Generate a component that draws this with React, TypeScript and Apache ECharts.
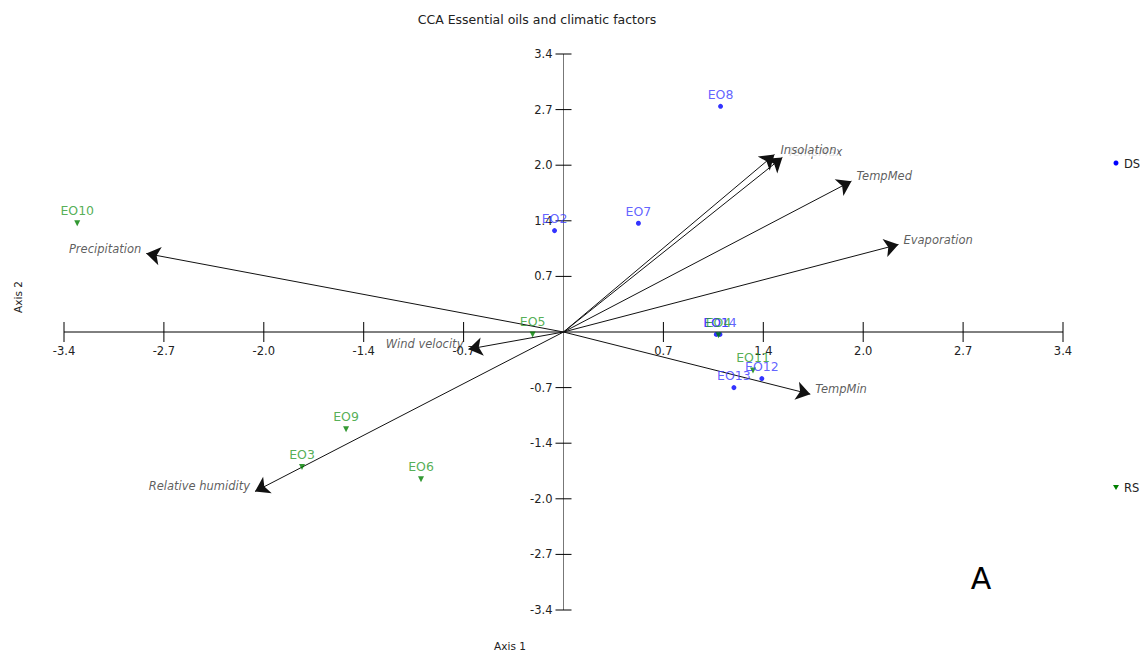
import React, { useEffect, useRef } from "react";
import * as echarts from "echarts";

const tickValues = [-3.4, -2.72, -2.04, -1.36, -0.68, 0, 0.68, 1.36, 2.04, 2.72, 3.4];

const dsNames = ["EO8", "EO7", "EO2", "EO1", "EO14", "EO12", "EO13"];
const dsX = [1.069, 0.51, -0.061, 1.04, 1.065, 1.35, 1.16];
const dsY = [2.76, 1.33, 1.24, -0.03, -0.03, -0.57, -0.68];

const rsNames = ["EO10", "EO5", "EO9", "EO3", "EO6", "EO4", "EO11"];
const rsX = [-3.31, -0.21, -1.48, -1.78, -0.97, 1.055, 1.29];
const rsY = [1.33, -0.03, -1.19, -1.65, -1.8, -0.04, -0.47];

const varNames = ["TempMax", "Insolation", "TempMed", "Evaporation", "TempMin", "Precipitation", "Wind velocity", "Relative humidity"];
const varX = [1.49, 1.436, 1.96, 2.28, 1.68, -2.84, -0.647, -2.1];
const varY = [2.135, 2.17, 1.845, 1.07, -0.76, 0.96, -0.21, -1.95];

const FONT = "DejaVu Sans";

export default function App() {
  const ref = useRef<HTMLDivElement>(null);
  useEffect(() => {
    if (!ref.current) return;
    const chart = echarts.init(ref.current, undefined, { renderer: "svg" });
    const fmt = (v: number) => (Math.abs(v) < 1e-9 ? "" : v.toFixed(1));
    const axisCommon = {
      type: "value" as const,
      min: -3.4,
      max: 3.4,
      interval: 0.68,
      splitLine: { show: false },
      axisLine: { show: false },
      axisTick: { show: false },
      axisLabel: { show: false },
    };
    const tickFont = `11.5px "${FONT}"`;
    const renderAxis = (params: any, api: any) => {
      const v = api.value(0);
      const p = api.coord([v, 0]);
      const q = api.coord([0, v]);
      const children: any[] = [];
      if (params.dataIndex === 0) {
        const xa = api.coord([tickValues[0], 0]);
        const xb = api.coord([tickValues[tickValues.length - 1], 0]);
        const ya = api.coord([0, tickValues[tickValues.length - 1]]);
        const yb = api.coord([0, tickValues[0]]);
        children.push({ type: "line", shape: { x1: xa[0], y1: xa[1], x2: xb[0], y2: xb[1] }, style: { stroke: "#000", lineWidth: 1 } });
        children.push({ type: "line", shape: { x1: ya[0], y1: ya[1], x2: yb[0], y2: yb[1] }, style: { stroke: "#777", lineWidth: 1 } });
      }
      const label = fmt(v);
      if (label) {
        children.push({ type: "line", shape: { x1: p[0], y1: p[1] - 10, x2: p[0], y2: p[1] + 10 }, style: { stroke: "#000", lineWidth: 1 } });
        children.push({ type: "line", shape: { x1: q[0] - 8, y1: q[1], x2: q[0] + 8, y2: q[1] }, style: { stroke: "#000", lineWidth: 1 } });
        children.push({
          type: "text",
          x: p[0],
          y: p[1] + 13,
          style: { text: label, font: tickFont, fill: "#222", align: "center", verticalAlign: "top", textAlign: "center", textVerticalAlign: "top" },
        });
        children.push({
          type: "text",
          x: q[0] - 11,
          y: q[1],
          style: { text: label, font: tickFont, fill: "#222", align: "right", verticalAlign: "middle", textAlign: "right", textVerticalAlign: "middle" },
        });
      }
      return { type: "group", children };
    };
    const option: any = {
      animation: false,
      grid: { left: 64, right: 85, top: 54, bottom: 43, containLabel: false },
      xAxis: axisCommon,
      yAxis: axisCommon,
      series: [
        {
          type: "custom",
          coordinateSystem: "cartesian2d",
          renderItem: renderAxis,
          clip: false,
          silent: true,
          z: 1,
          data: tickValues.map((v) => [v]),
        },
        {
          type: "lines",
          coordinateSystem: "cartesian2d",
          symbol: ["none", "arrow"],
          symbolSize: [7, 14],
          lineStyle: { color: "#111", width: 1, opacity: 1 },
          itemStyle: { color: "#000" },
          data: varNames.map((n, i) => ({ name: n, coords: [[0, 0], [varX[i], varY[i]]] })),
          z: 3,
        },
        {
          type: "scatter",
          symbolSize: 0,
          z: 4,
          data: varNames.map((n, i) => ({
            name: n,
            value: [varX[i], varY[i]],
            label: {
              show: true,
              position: varX[i] >= 0 ? "right" : "left",
              distance: 5,
              offset: [0, -5],
              formatter: n,
              fontStyle: "italic",
              fontSize: 11.5,
              fontFamily: FONT,
              color: "#333",
              backgroundColor: n === "Insolation" ? "#fff" : "transparent",
              padding: n === "Insolation" ? [0, 1, 2, 1] : 0,
            },
          })),
        },
        {
          type: "scatter",
          name: "DS",
          symbol: "circle",
          symbolSize: 5,
          itemStyle: { color: "#0000ff" },
          z: 5,
          label: { show: true, position: "top", distance: 3, formatter: "{b}", color: "#3a3aff", fontSize: 12.5, fontFamily: FONT },
          data: dsNames.map((n, i) => ({ name: n, value: [dsX[i], dsY[i]] })),
        },
        {
          type: "scatter",
          name: "RS",
          symbol: "triangle",
          symbolRotate: 180,
          symbolSize: 6,
          itemStyle: { color: "#008000" },
          z: 5,
          label: { show: true, position: "top", distance: 3, formatter: "{b}", color: "#2a9a2a", fontSize: 12.5, fontFamily: FONT },
          data: rsNames.map((n, i) => ({ name: n, value: [rsX[i], rsY[i]] })),
        },
      ],
      graphic: [
        { type: "text", x: 537, y: 19, style: { text: "CCA Essential oils and climatic factors", fontSize: 12.5, fontFamily: FONT, fill: "#222", textAlign: "center", textVerticalAlign: "middle" } },
        { type: "text", x: 510, y: 646, style: { text: "Axis 1", fontSize: 10.5, fontFamily: FONT, fill: "#222", textAlign: "center", textVerticalAlign: "middle" } },
        { type: "text", x: 18, y: 297, rotation: Math.PI / 2, style: { text: "Axis 2", fontSize: 10.5, fontFamily: FONT, fill: "#222", textAlign: "center", textVerticalAlign: "middle" } },
        { type: "text", x: 981, y: 578, style: { text: "A", fontSize: 30, fontFamily: FONT, fill: "#000", textAlign: "center", textVerticalAlign: "middle" } },
        { type: "circle", shape: { cx: 1116, cy: 163, r: 2.5 }, style: { fill: "#0000ff" } },
        { type: "text", x: 1124, y: 164, style: { text: "DS", fontSize: 11.5, fontFamily: FONT, fill: "#222", textVerticalAlign: "middle" } },
        { type: "polygon", shape: { points: [[1113, 485], [1119, 485], [1116, 490]] }, style: { fill: "#008000" } },
        { type: "text", x: 1124, y: 488, style: { text: "RS", fontSize: 11.5, fontFamily: FONT, fill: "#222", textVerticalAlign: "middle" } },
      ],
    };
    chart.setOption(option);
    return () => chart.dispose();
  }, []);
  return <div ref={ref} style={{ position: "fixed", left: 0, top: 0, width: 1148, height: 653, background: "#fff" }} />;
}
